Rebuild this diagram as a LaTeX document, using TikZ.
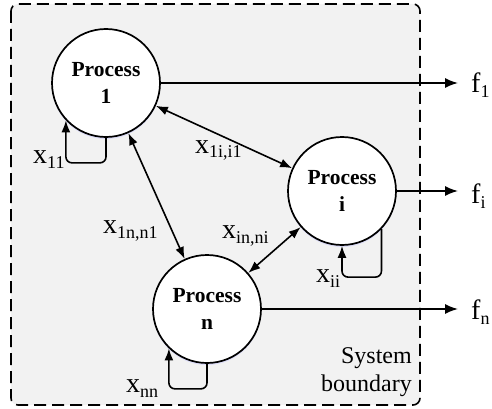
\documentclass[tikz,border=0pt]{standalone}
\usepackage{fontspec}
\setmainfont{Liberation Serif}
\usetikzlibrary{arrows.meta,shadows}

% subscript set smaller and dropped below the baseline
\newcommand\lowsub[1]{\raisebox{-5pt}{\fontsize{18}{18}\selectfont #1}}

\begin{document}
\begin{tikzpicture}[x=1pt,y=-1pt,
  proc/.style={circle, draw, line width=1.7pt, fill=white, minimum size=108pt,
    inner sep=0pt, align=center, font=\bfseries\fontsize{21.5}{27}\selectfont,
    drop shadow={shadow xshift=0pt, shadow yshift=-2pt, fill=blue!30, opacity=0.35}},
  flow/.style={-{Latex[length=13pt,width=10pt]}, line width=1.6pt},
  link/.style={{Latex[length=12pt,width=9pt]}-{Latex[length=12pt,width=9pt]}, line width=1.6pt},
  loop/.style={-{Latex[length=12pt,width=9pt]}, line width=1.6pt, rounded corners=6pt},
  lbl/.style={font=\fontsize{28}{28}\selectfont, inner sep=0pt, anchor=base west},
  note/.style={font=\fontsize{24}{28}\selectfont, inner sep=0pt, align=right}]

\useasboundingbox (0,0) rectangle (492,409);

% system boundary
\draw[line width=1.6pt, dash pattern=on 12pt off 6pt, rounded corners=7pt, fill=black!5]
  (11,4) rectangle (420,405);

% processes
\node[proc] (p1) at (106,83) {Process\\1};
\node[proc] (pi) at (342,191) {Process\\i};
\node[proc] (pn) at (207,309) {Process\\n};

% final outputs
\coordinate (o1) at (458,83);
\coordinate (oi) at (458,191);
\coordinate (on) at (458,309);
\draw[flow] (p1.east) -- (o1);
\draw[flow] (pi.east) -- (oi);
\draw[flow] (pn.east) -- (on);
\node[lbl] (f1) at (471,93) {f\lowsub{1}};
\node[lbl] (fi) at (471,203) {f\lowsub{i}};
\node[lbl] (fn) at (471,319) {f\lowsub{n}};

% exchanges between processes
\draw[link] (p1) -- (pi);
\draw[link] (p1) -- (pn);
\draw[link] (pi) -- (pn);

% recycle loops
\draw[loop] (p1.south) -- ++(0,25) -| (p1.223.5);
\draw[loop] (pi.-44) -- ++(0,48) -| (pi.south);
\draw[loop] (pn.south) -- ++(0,25) -| (pn.226.5);

% stream labels
\node[lbl] (x11) at (33,163) {x\lowsub{11}};
\node[lbl] (x1i) at (195,153) {x\lowsub{1i,i1}};
\node[lbl] (x1n) at (103,233) {x\lowsub{1n,n1}};
\node[lbl] (xin) at (222,238) {x\lowsub{in,ni}};
\node[lbl] (xii) at (316,282) {x\lowsub{ii}};
\node[lbl] (xnn) at (126,392) {x\lowsub{nn}};

\node[note, anchor=north east] (sb) at (412,347) {System\\boundary};
\end{tikzpicture}
\end{document}
